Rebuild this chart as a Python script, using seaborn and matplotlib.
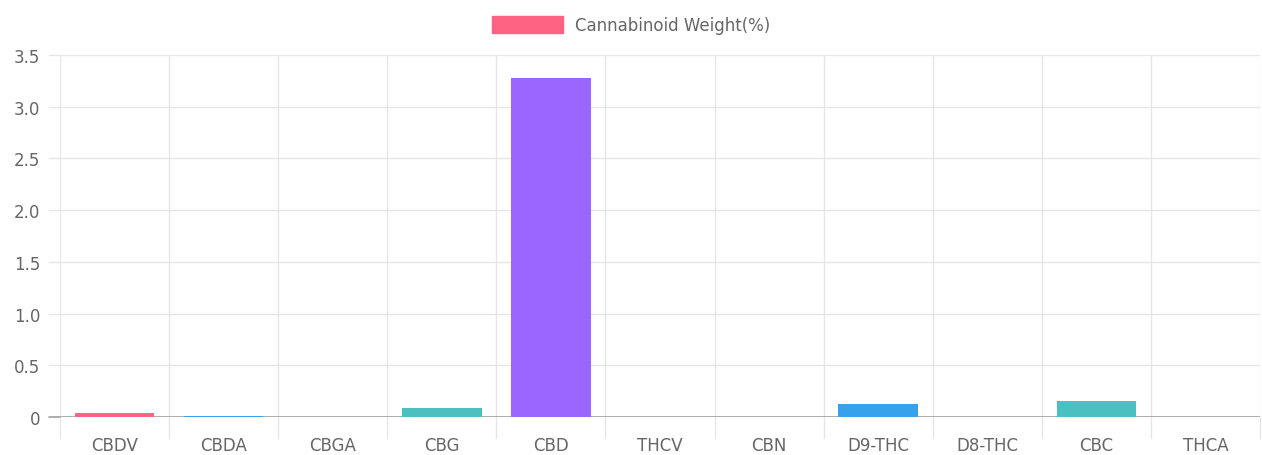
import numpy as np
import pandas as pd
import matplotlib
matplotlib.use('Agg')
import matplotlib.pyplot as plt
import seaborn as sns
from matplotlib.patches import Patch

# Veriler
kategoriler = ['CBDV', 'CBDA', 'CBGA', 'CBG', 'CBD', 'THCV', 'CBN', 'D9-THC', 'D8-THC', 'CBC', 'THCA']
agirlik = [0.035, 0.012, 0.0, 0.09, 3.28, 0.0, 0.0, 0.13, 0.0, 0.15, 0.0]
renkler = ['#ff6384', '#36a2eb', '#ffce56', '#4bc0c0', '#9966ff', '#ff9f40',
           '#ff6384', '#36a2eb', '#ffce56', '#4bc0c0', '#9966ff']
y_ticks = [0, 0.5, 1.0, 1.5, 2.0, 2.5, 3.0, 3.5]
y_tick_labels = ['0', '0.5', '1.0', '1.5', '2.0', '2.5', '3.0', '3.5']

df = pd.DataFrame({'kategori': kategoriler, 'agirlik': agirlik})

sns.set_style('white')
plt.rcParams['font.family'] = ['DejaVu Sans']

fig = plt.figure(figsize=(12.62, 4.56), dpi=100)
ax = fig.add_axes([60 / 1262, 1 - 418 / 456, 1200 / 1262, 362 / 456])

sns.barplot(data=df, x='kategori', y='agirlik', hue='kategori', palette=renkler,
            width=0.73, legend=False, ax=ax, saturation=1, zorder=3, linewidth=0)

ax.set_xlim(-0.5, len(kategoriler) - 0.5)
ax.set_ylim(0, 3.5)
ax.set_yticks(y_ticks)
ax.set_yticklabels(y_tick_labels)

# Izgara çizgileri (kategori sınırlarında dikey)
for i in range(len(kategoriler) + 1):
    ax.axvline(i - 0.5, color='#e6e6e6', lw=1, zorder=0)
    ax.plot([i - 0.5, i - 0.5], [0, -0.2], color='#e6e6e6', lw=1, clip_on=False, zorder=0)
for t in y_ticks[1:]:
    ax.axhline(t, color='#e6e6e6', lw=1, zorder=0)
    ax.plot([-0.6, -0.5], [t, t], color='#e6e6e6', lw=1, clip_on=False, zorder=0)
ax.axhline(0, color='#a0a0a0', lw=1.2, zorder=2)
ax.plot([-0.6, -0.5], [0, 0], color='#a0a0a0', lw=1.2, clip_on=False)

for s in ax.spines.values():
    s.set_visible(False)

ax.tick_params(axis='both', length=0, labelsize=12, labelcolor='#666666')
ax.tick_params(axis='x', pad=14)
ax.tick_params(axis='y', pad=14)
ax.set_xlabel('')
ax.set_ylabel('')

fig.legend(handles=[Patch(facecolor='#ff6384', edgecolor='#ff6384')],
           labels=['Cannabinoid Weight(%)'], loc='upper center',
           bbox_to_anchor=(0.5, 0.995), frameon=False, fontsize=12,
           labelcolor='#666666', handlelength=4.3, handleheight=1.2,
           handletextpad=0.7)

plt.savefig('out.png', dpi=100)
